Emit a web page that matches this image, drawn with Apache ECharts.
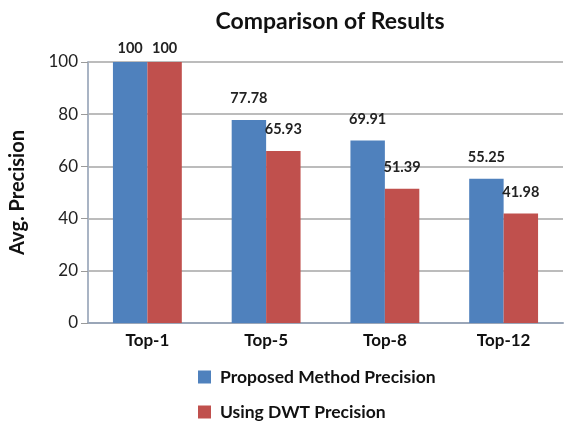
<!DOCTYPE html>
<html>
<head>
<meta charset="utf-8">
<script src="https://cdn.jsdelivr.net/npm/echarts@6/dist/echarts.min.js"></script>
<style>
  html, body { margin: 0; padding: 0; background: #fff; }
  #chart { width: 569px; height: 421px; }
</style>
</head>
<body>
<div id="chart"></div>
<script>
// 数据
const categories = ['Top-1', 'Top-5', 'Top-8', 'Top-12'];
const proposed = [100, 77.78, 69.91, 55.25];
const dwt = [100, 65.93, 51.39, 41.98];
const yTicks = [0, 20, 40, 60, 80, 100];

const font = 'Lato, "Open Sans", sans-serif';
const chart = echarts.init(document.getElementById('chart'));

// Top-1 的标签贴近顶部
const withLabels = vals => vals.map((v, i) => i === 0
    ? { value: v, label: { distance: 6 } }
    : v);

chart.setOption({
    backgroundColor: '#fff',
    animation: false,
    title: {
        text: 'Comparison of Results',
        left: 325, top: 5, textAlign: 'center',
        textStyle: { fontFamily: font, fontSize: 23, fontWeight: 'bold', color: '#111' }
    },
    grid: { left: 86, right: 6, top: 62, bottom: 98 },
    legend: {
        orient: 'vertical', left: 193, top: 363, height: 58,
        itemWidth: 13, itemHeight: 13, itemGap: 17,
        icon: 'rect',
        textStyle: { fontFamily: font, fontSize: 17.5, fontWeight: 'bold', color: '#111', padding: [0, 0, 0, 4] }
    },
    xAxis: {
        type: 'category', data: categories,
        axisLine: { lineStyle: { color: '#9aa6b8', width: 2 } },
        axisTick: { show: false },
        axisLabel: { fontFamily: font, fontSize: 17, fontWeight: 'bold', color: '#111', margin: 9 }
    },
    yAxis: {
        type: 'value', min: yTicks[0], max: yTicks[yTicks.length - 1], interval: 20,
        name: 'Avg. Precision', nameLocation: 'middle', nameGap: 60, nameRotate: 90,
        nameTextStyle: { fontFamily: font, fontSize: 20, fontWeight: 'bold', color: '#111' },
        axisLine: { show: true, lineStyle: { color: '#a9b4c4', width: 2 } },
        axisTick: { show: true, length: 7, lineStyle: { color: '#9a9a9a' } },
        axisLabel: { fontFamily: font, fontSize: 17, color: '#222', margin: 10 },
        splitLine: { lineStyle: { color: '#a6a6a6', width: 1.5 } }
    },
    series: [
        {
            name: 'Proposed Method Precision', type: 'bar', data: withLabels(proposed),
            barGap: '0%', barCategoryGap: '42%',
            itemStyle: { color: '#4f81bd' },
            label: { show: true, position: 'top', distance: 14,
                fontFamily: font, fontSize: 14.5, fontWeight: 'bold', color: '#222' }
        },
        {
            name: 'Using DWT Precision', type: 'bar', data: withLabels(dwt),
            itemStyle: { color: '#c0504d' },
            label: { show: true, position: 'top', distance: 14,
                fontFamily: font, fontSize: 14.5, fontWeight: 'bold', color: '#222' }
        }
    ]
});
</script>
</body>
</html>
